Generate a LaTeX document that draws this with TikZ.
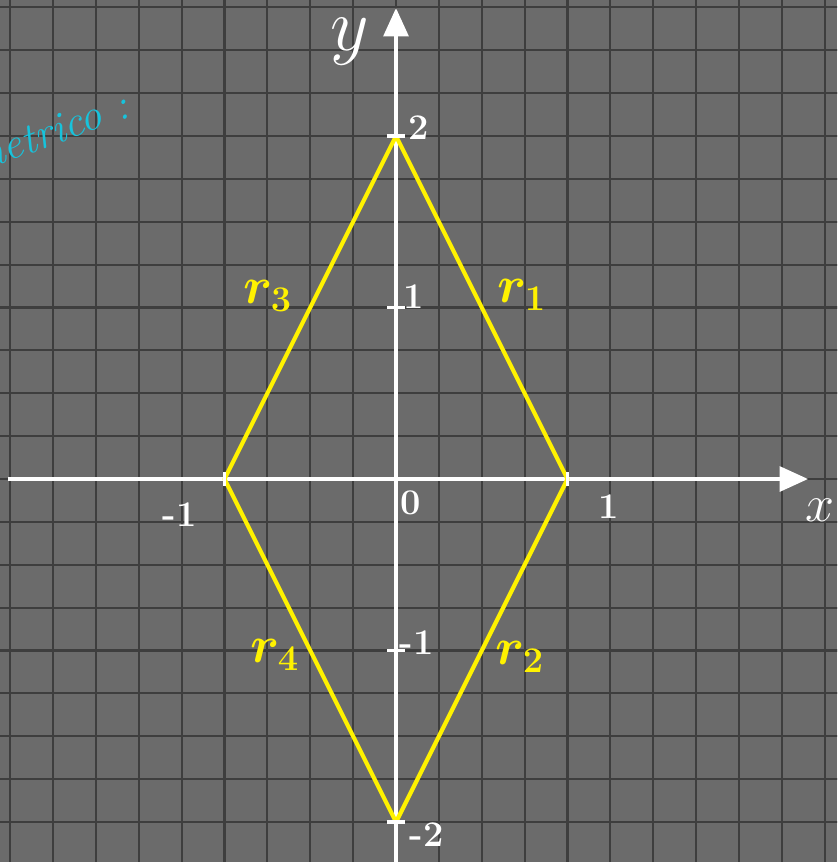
\documentclass[tikz,border=0pt]{standalone}
\usepackage{tikz}
\usetikzlibrary{arrows.meta,positioning}
\definecolor{Slate}{HTML}{6B6B6B}
\definecolor{GridLine}{HTML}{3E3E3E}
\definecolor{Lemon}{HTML}{FFF200}
\definecolor{Aqua}{HTML}{17C3DC}

\begin{document}
\begin{tikzpicture}[x=2cm,y=2cm,
  axis/.style={draw=white,line width=1.1pt,-{Triangle[length=3.3mm,width=2.9mm]}},
  side/.style={draw=Lemon,line width=1.4pt,line join=round},
  tick/.style={draw=white,line width=1.3pt},
  num/.style={text=white,font=\large\bfseries,inner sep=1pt},
  lab/.style={text=Lemon,font=\LARGE\boldmath,inner sep=1pt}]
\useasboundingbox (-2.309,-2.233) rectangle (2.572,2.793);
\clip (-2.309,-2.233) rectangle (2.572,2.793);
\fill[Slate] (-2.309,-2.233) rectangle (2.572,2.793);
% grid
\draw[GridLine,line width=0.7pt,step=0.25] (-2.5,-2.5) grid (2.75,3);
% axes
\coordinate (xs) at (-2.262,0);
\coordinate (xe) at (2.402,0);
\coordinate (ys) at (0,-2.4);
\coordinate (ye) at (0,2.746);
\draw[axis] (xs)--(xe);
\draw[axis] (ys)--(ye);
% rhombus
\coordinate (top) at (0,2);
\coordinate (bot) at (0,-2);
\coordinate (lft) at (-1,0);
\coordinate (rgt) at (1,0);
\draw[side] (top)--(rgt)--(bot)--(lft)--cycle;
% ticks
\foreach \v in {-2,-1,1,2}
  \draw[tick] (-0.05,\v)--(0.05,\v);
\foreach \v in {-1,1}
  \draw[tick] (\v,-0.04)--(\v,0.04);
% labels
\node[text=white,font=\Huge\itshape] (ylab) at (-0.268,2.55) {$y$};
\node[text=white,font=\LARGE\itshape] (xlab) at (2.47,-0.18) {$x$};
\node[num] (n0) at (0.087,-0.14) {0};
\node[num] (nx1) at (1.242,-0.163) {1};
\node[num] (nxm1) at (-1.26,-0.21) {-1};
\node[num] (ny2) at (0.135,2.047) {2};
\node[num] (ny1) at (0.105,1.061) {1};
\node[num] (nym1) at (0.12,-0.956) {-1};
\node[num] (nym2) at (0.18,-2.076) {-2};
\node[lab] (r1) at (0.735,1.073) {$r_1$};
\node[lab] (r2) at (0.723,-1.038) {$r_2$};
\node[lab] (r3) at (-0.746,1.067) {$r_3$};
\node[lab] (r4) at (-0.706,-1.026) {$r_4$};
\node[text=Aqua,font=\Large\itshape,rotate=20,anchor=east] (note) at (-1.51,2.21) {simmetrico :};
\end{tikzpicture}
\end{document}
